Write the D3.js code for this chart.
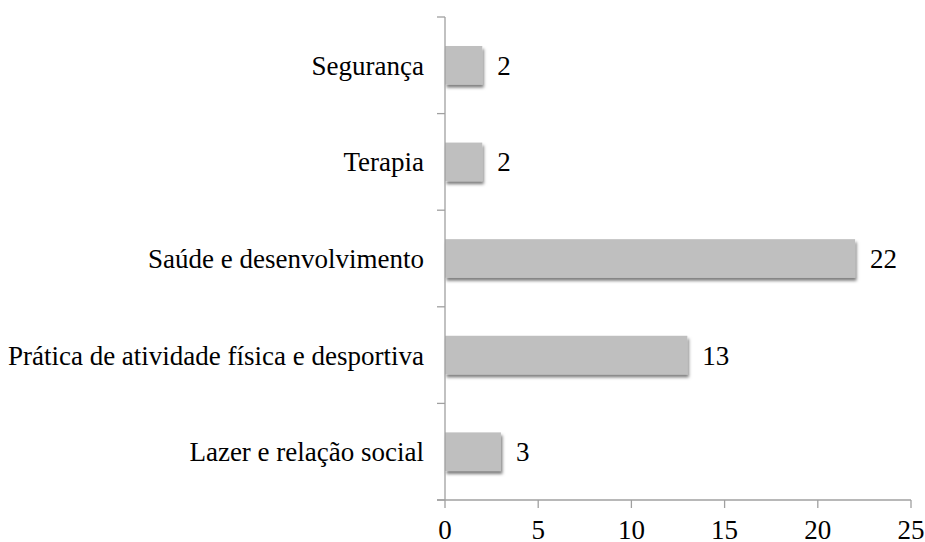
<!DOCTYPE html>
<html>
<head>
<meta charset="utf-8">
<script src="https://cdn.jsdelivr.net/npm/d3@7"></script>
</head>
<body style="margin:0; background:#fff">
<div id="chart"></div>
<script>
var categories = ["Segurança", "Terapia", "Saúde e desenvolvimento", "Prática de atividade física e desportiva", "Lazer e relação social"];
var values = [2, 2, 22, 13, 3];
var x_ticks = [0, 5, 10, 15, 20, 25];

var width = 925;
var height = 542;
var plot_left = 445, plot_right = 911, plot_top = 17, plot_bottom = 500;
var axis_color = "#a0a0a0";
var font_family = "'Liberation Serif'";
var font_size = "27px";

var svg = d3.select("#chart").append("svg")
    .attr("width", width)
    .attr("height", height);

// Soft shadow under the bars.
var filter = svg.append("defs").append("filter")
    .attr("id", "shadow")
    .attr("x", "-10%").attr("y", "-30%")
    .attr("width", "130%").attr("height", "180%");
filter.append("feDropShadow")
    .attr("dx", 1.5)
    .attr("dy", 3)
    .attr("stdDeviation", 1.8)
    .attr("flood-color", "#000")
    .attr("flood-opacity", 0.5);

var x = d3.scaleLinear()
    .domain([0, 25])
    .range([plot_left, plot_right]);

var y = d3.scaleBand()
    .domain(categories)
    .range([plot_top, plot_bottom])
    .paddingInner(0.6)
    .paddingOuter(0.3);

var yTicks = d3.scaleBand().domain(categories).range([plot_top, plot_bottom]);

function styleText(sel) {
    return sel.style("font-family", font_family)
        .style("font-size", font_size)
        .attr("fill", "#000");
}

// Bars.
svg.selectAll(".bar").data(values).enter().append("rect")
    .attr("class", "bar")
    .attr("x", x(0))
    .attr("y", function(d, i) { return y(categories[i]); })
    .attr("width", function(d) { return x(d) - x(0); })
    .attr("height", y.bandwidth())
    .attr("fill", "#bfbfbf")
    .attr("filter", "url(#shadow)");

// Value labels.
svg.selectAll(".val").data(values).enter().append("text")
    .attr("class", "val")
    .attr("x", function(d) { return x(d) + 15; })
    .attr("y", function(d, i) { return y(categories[i]) + y.bandwidth() / 2; })
    .attr("dy", "0.35em")
    .call(styleText)
    .text(function(d) { return d; });

// Category labels.
svg.selectAll(".cat").data(categories).enter().append("text")
    .attr("class", "cat")
    .attr("x", plot_left - 21)
    .attr("y", function(d) { return y(d) + y.bandwidth() / 2; })
    .attr("dy", "0.35em")
    .attr("text-anchor", "end")
    .call(styleText)
    .text(function(d) { return d; });

// Y axis line and tick marks between categories.
svg.append("line")
    .attr("x1", plot_left).attr("x2", plot_left)
    .attr("y1", plot_top).attr("y2", plot_bottom)
    .attr("stroke", axis_color).attr("stroke-width", 1.3);

var yBoundaries = categories.map(function(d) { return yTicks(d); }).concat([plot_bottom]);
svg.selectAll(".ytick").data(yBoundaries).enter().append("line")
    .attr("class", "ytick")
    .attr("x1", plot_left - 8).attr("x2", plot_left)
    .attr("y1", function(d) { return d; })
    .attr("y2", function(d) { return d; })
    .attr("stroke", axis_color).attr("stroke-width", 1.3);

// X axis.
svg.append("line")
    .attr("x1", plot_left - 8).attr("x2", plot_right)
    .attr("y1", plot_bottom).attr("y2", plot_bottom)
    .attr("stroke", axis_color).attr("stroke-width", 1.3);

svg.selectAll(".xtick").data(x_ticks).enter().append("line")
    .attr("class", "xtick")
    .attr("x1", function(d) { return x(d); })
    .attr("x2", function(d) { return x(d); })
    .attr("y1", plot_bottom).attr("y2", plot_bottom + 8)
    .attr("stroke", axis_color).attr("stroke-width", 1.3);

svg.selectAll(".xlabel").data(x_ticks).enter().append("text")
    .attr("class", "xlabel")
    .attr("x", function(d) { return x(d); })
    .attr("y", 539)
    .attr("text-anchor", "middle")
    .call(styleText)
    .text(function(d) { return d; });
</script>
</body>
</html>
